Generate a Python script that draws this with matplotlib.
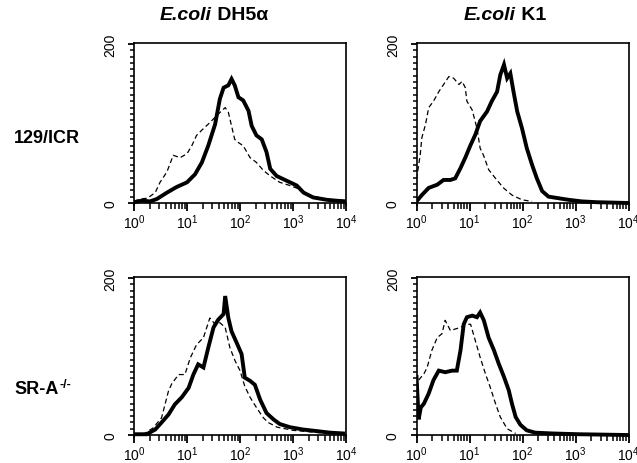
import numpy as np
import matplotlib
matplotlib.use("Agg")
import matplotlib.pyplot as plt
from matplotlib.ticker import FixedLocator, LogLocator, NullFormatter

plt.rcParams['font.family'] = ['Liberation Sans', 'DejaVu Sans']

# fluorescence in decades (log10) and cell counts
# 129/ICR, E.coli DH5a
icr_dh5_x = [0.0, 0.15, 0.3, 0.43, 0.62, 0.8, 1.0, 1.15, 1.28, 1.4, 1.53, 1.62, 1.69,
             1.78, 1.84, 1.9, 1.97, 2.06, 2.16, 2.22, 2.31, 2.41, 2.5, 2.57, 2.69,
             2.88, 3.07, 3.2, 3.38, 3.64, 3.8, 4.0]
icr_dh5_solid = [1, 3, 2, 5, 13, 20, 26, 36, 51, 72, 99, 131, 145, 148, 156, 148, 133,
                 129, 116, 97, 85, 80, 64, 43, 34, 28, 22, 13, 7, 4, 3, 2]
icr_dh5_ctl_x = [0.0, 0.11, 0.25, 0.4, 0.49, 0.62, 0.74, 0.87, 1.0, 1.09, 1.18, 1.3,
                 1.43, 1.56, 1.72, 1.78, 1.84, 1.9, 1.97, 2.06, 2.19, 2.31, 2.44, 2.57,
                 2.75, 2.94, 3.1, 3.3, 3.6, 4.0]
icr_dh5_ctl = [2, 5, 6, 13, 26, 39, 60, 57, 62, 72, 85, 93, 101, 110, 120, 114, 97, 80,
               76, 72, 57, 51, 41, 34, 26, 22, 18, 10, 5, 3]

# 129/ICR, E.coli K1
icr_k1_x = [0.0, 0.1, 0.23, 0.39, 0.51, 0.64, 0.73, 0.83, 0.92, 1.02, 1.11, 1.2, 1.33,
            1.42, 1.52, 1.58, 1.65, 1.71, 1.77, 1.83, 1.9, 1.99, 2.08, 2.18, 2.27, 2.37,
            2.49, 2.68, 2.87, 3.12, 3.4, 4.0]
icr_k1_solid = [2, 10, 19, 23, 29, 29, 31, 44, 57, 73, 86, 103, 115, 128, 140, 161, 174,
                157, 163, 140, 115, 94, 69, 48, 31, 15, 8, 6, 4, 2, 1, 0]
icr_k1_ctl_x = [0.0, 0.07, 0.1, 0.17, 0.23, 0.32, 0.42, 0.51, 0.61, 0.7, 0.8, 0.86,
                0.92, 0.95, 1.05, 1.14, 1.2, 1.27, 1.36, 1.49, 1.64, 1.8, 1.99, 2.18]
icr_k1_ctl = [30, 61, 82, 99, 120, 128, 140, 149, 159, 157, 149, 153, 145, 128, 117, 94,
              69, 59, 42, 31, 19, 10, 4, 2]

# SR-A-/-, E.coli DH5a
sra_dh5_x = [0.0, 0.24, 0.4, 0.52, 0.65, 0.77, 0.9, 1.03, 1.12, 1.21, 1.31, 1.4, 1.5,
             1.59, 1.69, 1.72, 1.78, 1.84, 1.94, 2.03, 2.09, 2.19, 2.28, 2.38, 2.5,
             2.63, 2.75, 2.94, 3.19, 3.45, 3.7, 3.95]
sra_dh5_solid = [1, 1, 7, 16, 26, 39, 48, 60, 77, 90, 86, 111, 137, 147, 154, 177, 149,
                 132, 117, 103, 73, 69, 64, 45, 28, 20, 14, 10, 7, 5, 3, 2]
sra_dh5_ctl_x = [0.0, 0.2, 0.36, 0.52, 0.65, 0.71, 0.84, 0.96, 1.06, 1.18, 1.31, 1.43,
                 1.53, 1.62, 1.72, 1.81, 1.91, 2.0, 2.09, 2.19, 2.31, 2.44, 2.53, 2.7,
                 3.0, 3.5, 4.0]
sra_dh5_ctl = [1, 2, 9, 22, 56, 65, 77, 77, 98, 115, 124, 149, 141, 143, 137, 111, 94,
               82, 62, 48, 35, 22, 16, 10, 6, 3, 2]

# SR-A-/-, E.coli K1
sra_k1_x = [0.0, 0.04, 0.08, 0.14, 0.23, 0.32, 0.42, 0.54, 0.67, 0.76, 0.83, 0.89, 0.95,
            1.05, 1.14, 1.2, 1.27, 1.36, 1.46, 1.55, 1.65, 1.74, 1.8, 1.87, 1.96, 2.08,
            2.24, 2.56, 3.06, 4.0]
sra_k1_solid = [74, 20, 35, 40, 53, 70, 82, 80, 82, 82, 108, 141, 150, 152, 150, 156,
                146, 124, 108, 91, 74, 57, 40, 23, 13, 6, 3, 2, 1, 0]
sra_k1_ctl_x = [0.0, 0.04, 0.14, 0.2, 0.29, 0.39, 0.48, 0.54, 0.64, 0.73, 0.83, 0.92,
                1.02, 1.11, 1.2, 1.3, 1.39, 1.49, 1.58, 1.71, 1.87]
sra_k1_ctl = [60, 70, 78, 86, 108, 124, 129, 146, 133, 135, 137, 141, 141, 120, 99, 78,
              61, 40, 23, 8, 2]

decade_labels = [r'$\mathregular{10^{%d}}$' % i for i in range(5)]

fig = plt.figure(figsize=(6.37, 4.64), dpi=100)

panels = [
    ([0.2104, 0.5552, 0.3328, 0.3496], icr_dh5_x, icr_dh5_solid, icr_dh5_ctl_x, icr_dh5_ctl),
    ([0.6539, 0.5552, 0.3328, 0.3496], icr_k1_x, icr_k1_solid, icr_k1_ctl_x, icr_k1_ctl),
    ([0.2104, 0.0552, 0.3328, 0.3453], sra_dh5_x, sra_dh5_solid, sra_dh5_ctl_x, sra_dh5_ctl),
    ([0.6539, 0.0552, 0.3328, 0.3453], sra_k1_x, sra_k1_solid, sra_k1_ctl_x, sra_k1_ctl),
]

for rect, sx, sy, cx, cy in panels:
    ax = fig.add_axes(rect)
    ax.plot(10 ** np.array(cx), cy, color='black', lw=0.9, ls=(0, (4, 2.5)))
    ax.plot(10 ** np.array(sx), sy, color='black', lw=2.8, solid_joinstyle='miter')
    ax.set_xscale('log')
    ax.set_xlim(1, 1e4)
    ax.set_ylim(-3, 201)
    ax.spines['bottom'].set_position(('data', 0))
    for sp in ax.spines.values():
        sp.set_linewidth(1.2)
    ax.set_xticks([1, 10, 100, 1000, 10000])
    ax.set_xticklabels(decade_labels)
    ax.xaxis.set_minor_locator(LogLocator(base=10, subs=np.arange(2, 10)))
    ax.xaxis.set_minor_formatter(NullFormatter())
    ax.set_yticks([0, 200])
    ax.set_yticklabels(['0', '200'], rotation=90, va='center')
    ax.yaxis.set_minor_locator(FixedLocator(np.arange(0, 201, 8)))
    ax.tick_params(axis='x', which='major', direction='out', length=6, width=1.3,
                   labelsize=10, pad=1)
    ax.tick_params(axis='x', which='minor', direction='out', length=4, width=1.1)
    ax.tick_params(axis='y', which='major', direction='out', length=4, width=1.3,
                   labelsize=10, pad=8)
    ax.tick_params(axis='y', which='minor', direction='out', length=3, width=1.1)

# column titles
fig.text(212 / 637, 1 - 15 / 464, 'E.coli', fontsize=14, fontweight='bold',
         fontstyle='italic', ha='right', va='center')
fig.text(212 / 637, 1 - 15 / 464, ' DH5\u03b1', fontsize=14, fontweight='bold',
         ha='left', va='center')
fig.text(516 / 637, 1 - 15 / 464, 'E.coli', fontsize=14, fontweight='bold',
         fontstyle='italic', ha='right', va='center')
fig.text(516 / 637, 1 - 15 / 464, ' K1', fontsize=14, fontweight='bold',
         ha='left', va='center')

# row labels
fig.text(14 / 637, 1 - 139 / 464, '129/ICR', fontsize=13, fontweight='bold',
         ha='left', va='center')
sra = fig.text(14 / 637, 1 - 390 / 464, 'SR-A', fontsize=13, fontweight='bold',
               ha='left', va='center')
bb = sra.get_window_extent(renderer=fig.canvas.get_renderer())
fig.text((bb.x1 + 1) / 637, (bb.y1 + 2) / 464, '-/-', fontsize=9, fontweight='bold',
         ha='left', va='top')

fig.savefig('out.png', dpi=100)
